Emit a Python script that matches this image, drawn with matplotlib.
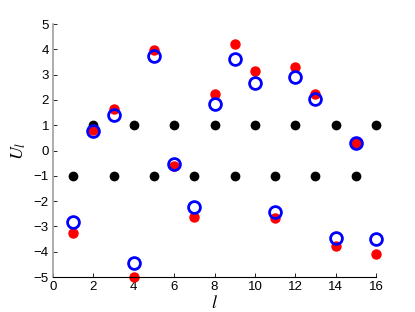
import matplotlib
matplotlib.use("Agg")
import matplotlib.pyplot as plt
import numpy as np

l_vals = np.arange(1, 17)
# reference pattern (black), alternating -1 / +1
black_vals = [-1, 1, -1, 1, -1, 1, -1, 1, -1, 1, -1, 1, -1, 1, -1, 1]
# red filled dots
red_vals = [-3.25, 0.82, 1.66, -4.98, 3.98, -0.63, -2.62, 2.24,
            4.21, 3.16, -2.67, 3.32, 2.24, -3.79, 0.29, -4.10]
# blue open circles
blue_vals = [-2.83, 0.79, 1.41, -4.45, 3.75, -0.53, -2.25, 1.83,
             3.60, 2.65, -2.41, 2.89, 2.04, -3.45, 0.29, -3.49]

plt.rcParams['font.family'] = ['Liberation Sans', 'DejaVu Sans']
plt.rcParams['mathtext.fontset'] = 'stix'

fig = plt.figure(figsize=(4.15, 3.12), dpi=100)
ax = fig.add_axes([0.128, 0.112, 0.778, 0.811])

ax.plot(l_vals, black_vals, 'o', color='black', markersize=6, clip_on=False)
ax.plot(l_vals, red_vals, 'o', color='red', markersize=6.5, clip_on=False)
ax.plot(l_vals, blue_vals, 'o', markerfacecolor='none', markeredgecolor='blue',
        markeredgewidth=2, markersize=8.5, clip_on=False)

ax.set_xlim(0, 16)
ax.set_ylim(-5, 5)
ax.set_xticks(np.arange(0, 17, 2))
ax.set_yticks(np.arange(-5, 6, 1))
ax.set_yticklabels([str(v).replace('-', '\u2212') for v in range(-5, 6)])

for s in ['top', 'right']:
    ax.spines[s].set_visible(False)
ax.spines['left'].set_color('#a0a0a0')
ax.spines['left'].set_linewidth(1.2)
ax.spines['bottom'].set_color('black')
ax.spines['bottom'].set_linewidth(0.8)
ax.tick_params(direction='in', length=3, width=0.6, labelsize=9.5, pad=3)

ax.set_xlabel('$l$', fontsize=13, labelpad=1)
ax.set_ylabel('$U_l$', fontsize=13, labelpad=4)

fig.savefig('out.png', dpi=100)
